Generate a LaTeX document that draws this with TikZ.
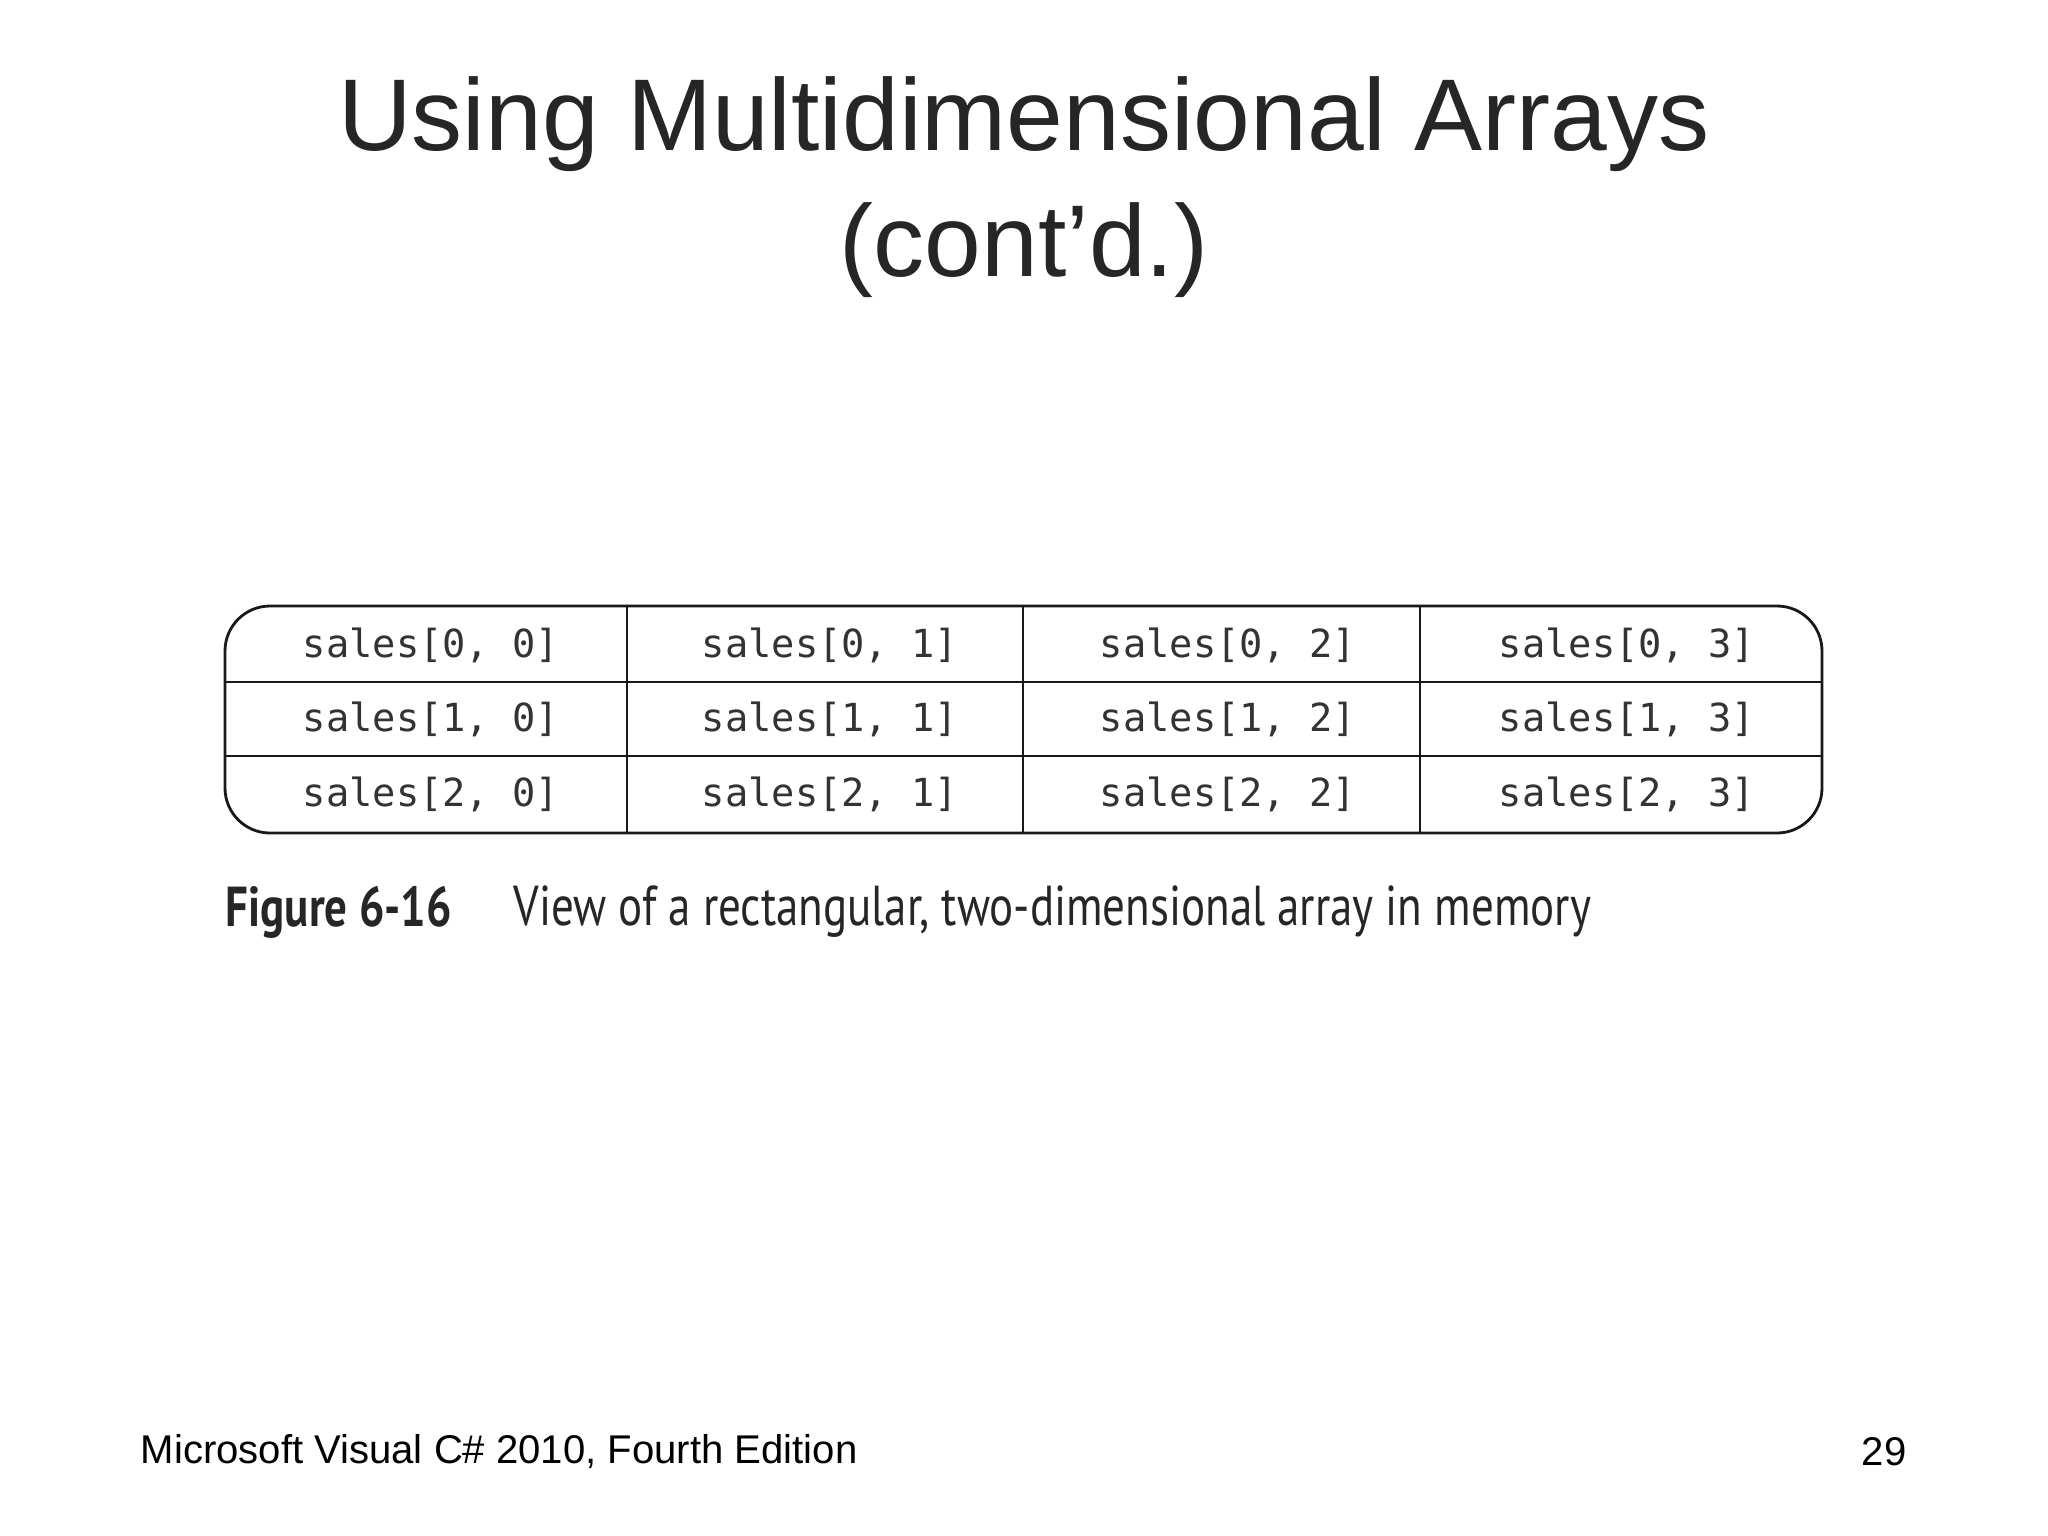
\documentclass[tikz,border=0pt]{standalone}
\usepackage{fontspec}
\setmainfont{Liberation Sans}
\newfontfamily\cellfont{DejaVu Sans Mono}
\newfontfamily\capfont[FakeStretch=0.8]{PT Sans}
\begin{document}
\begin{tikzpicture}[x=0.01cm,y=-0.01cm,
  cell/.style={font=\cellfont\fontsize{11}{13}\selectfont, text=black!80},
  grid/.style={line width=0.8pt, black!90}]
\useasboundingbox[fill=white] (0,0) rectangle (2048,1536);
\node[text=black!85] (t1) at (1024,124) {\fontsize{29}{34}\selectfont Using Multidimensional Arrays};
\node[text=black!85] (t2) at (1024,250) {\fontsize{29}{34}\selectfont (cont{\char"27}d.)};
\draw[grid, rounded corners=0.45cm] (225,606) rectangle (1822,833);
\foreach \x in {627,1023,1420} \draw[grid] (\x,606) -- (\x,833);
\foreach \y in {682,756} \draw[grid] (225,\y) -- (1822,\y);
\foreach \r/\yc in {0/645,1/719,2/794}{
  \foreach \c/\xc in {0/431,1/830,2/1228,3/1627}{
    \node[cell] (c\r\c) at (\xc,\yc) {sales[\r, \c]};
  }
}
\node[anchor=west, font=\capfont\bfseries\fontsize{16}{18}\selectfont, text=black!85, inner sep=0pt] (fig) at (225,912) {Figure 6-16};
\node[anchor=west, font=\capfont\fontsize{16}{18}\selectfont, text=black!85, inner sep=0pt] (cap) at (513,912) {View of a rectangular, two-dimensional array in memory};
\node[anchor=west, font=\fontsize{11.4}{13}\selectfont, inner sep=0pt] (foot) at (140,1452) {Microsoft Visual C\# 2010, Fourth Edition};
\node[anchor=east, font=\fontsize{11.4}{13}\selectfont, inner sep=0pt] (pg) at (1907,1452) {29};
\end{tikzpicture}
\end{document}
